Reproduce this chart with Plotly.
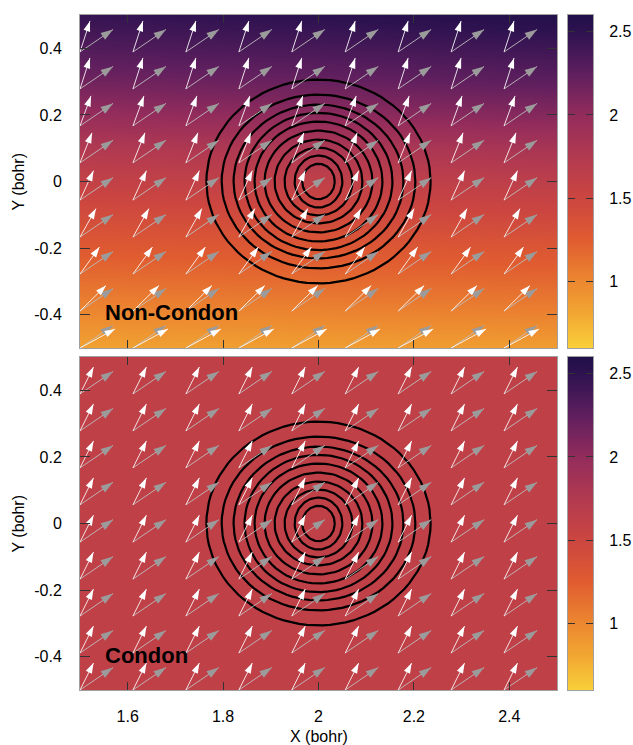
import math
import plotly.graph_objects as go

# ---------------- data ----------------
x_tickvals = [1.6, 1.8, 2.0, 2.2, 2.4]
x_ticktext = ["1.6", "1.8", "2", "2.2", "2.4"]
y_tickvals = [-0.4, -0.2, 0.0, 0.2, 0.4]
y_ticktext = ["-0.4", "-0.2", "0", "0.2", "0.4"]
cb_tickvals = [1.0, 1.5, 2.0, 2.5]
cb_ticktext = ["1", "1.5", "2", "2.5"]
z_min, z_max = 0.6, 2.6

# background colour field (Non-Condon): rows = bg_y, columns = bg_x
bg_x = [1.5, 2.0, 2.5]
bg_y = [-0.5, -0.4, -0.3, -0.2, -0.1, 0.0, 0.1, 0.2, 0.3, 0.4, 0.5]
bg_noncondon = [
    [0.84, 0.86, 0.87],
    [0.99, 1.01, 1.03],
    [1.14, 1.16, 1.18],
    [1.28, 1.30, 1.32],
    [1.43, 1.46, 1.49],
    [1.59, 1.62, 1.65],
    [1.76, 1.80, 1.84],
    [1.98, 2.03, 2.07],
    [2.16, 2.21, 2.26],
    [2.32, 2.37, 2.42],
    [2.46, 2.52, 2.58],
]
bg_condon_value = 1.62

# arrow grid (tails)
arrow_x = [1.5, 1.611, 1.722, 1.833, 1.944, 2.056, 2.167, 2.278, 2.389]
arrow_y = [-0.5, -0.389, -0.278, -0.167, -0.056, 0.056, 0.167, 0.278, 0.389]
# white (Non-Condon) arrow components per row of arrow_y
white_nc_dx = [0.0734, 0.0545, 0.0409, 0.0335, 0.0283, 0.0252, 0.0231, 0.0210, 0.0210]
white_nc_dy = [0.0571, 0.0766, 0.0811, 0.0856, 0.0886, 0.0901, 0.0901, 0.0931, 0.0931]
# white (Condon) arrow, constant
white_c_dx, white_c_dy = 0.0283, 0.0811
# grey arrow, constant in both panels
grey_dx, grey_dy = 0.0692, 0.0676

# contour rings of the wave packet
ring_x0, ring_y0 = 2.0, 0.0
ring_rx = [0.235, 0.203, 0.178, 0.155, 0.134, 0.113, 0.092, 0.071, 0.050, 0.034]
ring_ry = [0.306, 0.261, 0.231, 0.206, 0.180, 0.153, 0.126, 0.102, 0.078, 0.053]

# ---------------- layout constants ----------------
W, H = 633, 745
ML, MR, MT, MB = 80, 10, 15, 55
MAIN_W = 477            # width of each plot frame
CB_LEFT, CB_W = 568, 25  # colour bar position (px)
PANEL_H = 333
GAP = 9
PW = W - ML - MR
PH = H - MT - MB
FONT = "Liberation Sans"
X_RANGE = [1.5, 2.5]
Y_RANGE = [-0.5, 0.5]
px_per_x = MAIN_W / (X_RANGE[1] - X_RANGE[0])
px_per_y = PANEL_H / (Y_RANGE[1] - Y_RANGE[0])

main_xdom = [0.0, MAIN_W / PW]
cb_xdom = [(CB_LEFT - ML) / PW, (CB_LEFT + CB_W - ML) / PW]
top_dom = [(PANEL_H + GAP) / PH, 1.0]
bot_dom = [0.0, PANEL_H / PH]

colorscale = [
    [0.0, "#f9d03a"],
    [0.1, "#f2a832"],
    [0.2, "#ec8830"],
    [0.325, "#e05c30"],
    [0.45, "#cc4640"],
    [0.575, "#b23a50"],
    [0.7, "#932c5c"],
    [0.825, "#5f1f5e"],
    [0.95, "#2e1250"],
    [1.0, "#211048"],
]


def arrows(xa, ya, dxs, dys, head_color, shaft_color, size):
    lx, ly, hx, hy, ang = [], [], [], [], []
    for j, y0 in enumerate(arrow_y):
        dx, dy = dxs[j], dys[j]
        a = math.degrees(math.atan2(dx * px_per_x, dy * px_per_y))
        for x0 in arrow_x:
            lx += [x0, x0 + dx, None]
            ly += [y0, y0 + dy, None]
            hx.append(x0 + dx)
            hy.append(y0 + dy)
            ang.append(a)
    return [
        go.Scatter(x=lx, y=ly, mode="lines", xaxis=xa, yaxis=ya,
                   line=dict(color=shaft_color, width=1),
                   hoverinfo="skip", showlegend=False),
        go.Scatter(x=hx, y=hy, mode="markers", xaxis=xa, yaxis=ya,
                   marker=dict(symbol="arrow", size=size, angle=ang,
                               color=head_color, line=dict(width=0)),
                   hoverinfo="skip", showlegend=False),
    ]


def rings(xa, ya):
    xs, ys = [], []
    n = 90
    for rx, ry in zip(ring_rx, ring_ry):
        for i in range(n + 1):
            t = 2 * math.pi * i / n
            xs.append(ring_x0 + rx * math.cos(t))
            ys.append(ring_y0 + ry * math.sin(t))
        xs.append(None)
        ys.append(None)
    return go.Scatter(x=xs, y=ys, mode="lines", xaxis=xa, yaxis=ya,
                      line=dict(color="black", width=2.2),
                      hoverinfo="skip", showlegend=False)


def colorbar_trace(xa, ya):
    return go.Heatmap(x=[0, 1], y=[z_min, z_max],
                      z=[[z_min, z_min], [z_max, z_max]], zsmooth="best",
                      zmin=z_min, zmax=z_max, colorscale=colorscale,
                      showscale=False, xaxis=xa, yaxis=ya, hoverinfo="skip")


fig = go.Figure()

# top panel: Non-Condon
fig.add_trace(go.Heatmap(x=bg_x, y=bg_y, z=bg_noncondon, zsmooth="best",
                         zmin=z_min, zmax=z_max, colorscale=colorscale,
                         showscale=False, xaxis="x", yaxis="y",
                         hoverinfo="skip"))
fig.add_trace(rings("x", "y"))
for tr in arrows("x", "y", [grey_dx] * len(arrow_y), [grey_dy] * len(arrow_y),
                 "#9b9b9b", "rgba(190,190,190,0.9)", 13):
    fig.add_trace(tr)
for tr in arrows("x", "y", white_nc_dx, white_nc_dy,
                 "#ffffff", "rgba(255,255,255,0.85)", 11):
    fig.add_trace(tr)

# bottom panel: Condon
fig.add_trace(go.Heatmap(x=bg_x, y=[bg_y[0], bg_y[-1]],
                         z=[[bg_condon_value] * len(bg_x)] * 2, zsmooth="best",
                         zmin=z_min, zmax=z_max, colorscale=colorscale,
                         showscale=False, xaxis="x2", yaxis="y2",
                         hoverinfo="skip"))
fig.add_trace(rings("x2", "y2"))
for tr in arrows("x2", "y2", [grey_dx] * len(arrow_y), [grey_dy] * len(arrow_y),
                 "#9b9b9b", "rgba(190,190,190,0.9)", 13):
    fig.add_trace(tr)
for tr in arrows("x2", "y2", [white_c_dx] * len(arrow_y), [white_c_dy] * len(arrow_y),
                 "#ffffff", "rgba(255,255,255,0.85)", 11):
    fig.add_trace(tr)

# colour bars
fig.add_trace(colorbar_trace("x3", "y3"))
fig.add_trace(colorbar_trace("x4", "y4"))

FRAME = "#a0a0a0"
axis_common = dict(
    showline=True, linecolor=FRAME, linewidth=1, mirror="ticks",
    ticks="inside", tickwidth=1, tickcolor="#333", showgrid=False,
    zeroline=False, automargin=False,
    tickfont=dict(family=FONT, size=16, color="black"),
)
cbx_common = dict(range=[0, 1], showline=True, linecolor=FRAME, linewidth=1,
                  mirror=True, ticks="", showticklabels=False, automargin=False,
                  showgrid=False, zeroline=False)
cby_common = dict(axis_common, range=[z_min, z_max], side="right",
                  tickvals=cb_tickvals, ticktext=cb_ticktext, ticklen=7,
                  ticklabelstandoff=12)

fig.update_layout(
    width=W, height=H,
    margin=dict(l=ML, r=MR, t=MT, b=MB, pad=0, autoexpand=False),
    paper_bgcolor="white", plot_bgcolor="white",
    showlegend=False,
    xaxis=dict(axis_common, range=X_RANGE, domain=main_xdom, anchor="y",
               tickvals=x_tickvals, ticktext=x_ticktext,
               showticklabels=False, ticklen=8),
    yaxis=dict(axis_common, range=Y_RANGE, domain=top_dom, anchor="x",
               tickvals=y_tickvals, ticktext=y_ticktext, ticklen=10,
               ticklabelstandoff=14),
    xaxis2=dict(axis_common, range=X_RANGE, domain=main_xdom, anchor="y2",
                tickvals=x_tickvals, ticktext=x_ticktext,
                showticklabels=True, ticklen=8, ticklabelstandoff=12),
    yaxis2=dict(axis_common, range=Y_RANGE, domain=bot_dom, anchor="x2",
                tickvals=y_tickvals, ticktext=y_ticktext, ticklen=10,
                ticklabelstandoff=14),
    xaxis3=dict(cbx_common, domain=cb_xdom, anchor="y3"),
    yaxis3=dict(cby_common, domain=top_dom, anchor="x3"),
    xaxis4=dict(cbx_common, domain=cb_xdom, anchor="y4"),
    yaxis4=dict(cby_common, domain=bot_dom, anchor="x4"),
    annotations=[
        dict(text="<b>Non-Condon</b>", x=1.549, y=-0.392, xref="x", yref="y",
             xanchor="left", yanchor="middle", showarrow=False,
             font=dict(family=FONT, size=22, color="black")),
        dict(text="<b>Condon</b>", x=1.549, y=-0.395, xref="x2", yref="y2",
             xanchor="left", yanchor="middle", showarrow=False,
             font=dict(family=FONT, size=22, color="black")),
        dict(text="Y (bohr)", x=(18 - ML) / PW, y=(top_dom[0] + top_dom[1]) / 2,
             xref="paper", yref="paper", textangle=-90, showarrow=False,
             xanchor="center", yanchor="middle",
             font=dict(family=FONT, size=16, color="black")),
        dict(text="Y (bohr)", x=(18 - ML) / PW, y=(bot_dom[0] + bot_dom[1]) / 2,
             xref="paper", yref="paper", textangle=-90, showarrow=False,
             xanchor="center", yanchor="middle",
             font=dict(family=FONT, size=16, color="black")),
        dict(text="X (bohr)", x=(MAIN_W / 2) / PW, y=-(736 - (H - MB)) / PH,
             xref="paper", yref="paper", showarrow=False,
             xanchor="center", yanchor="middle",
             font=dict(family=FONT, size=16, color="black")),
    ],
)

fig.write_html("out.html")
